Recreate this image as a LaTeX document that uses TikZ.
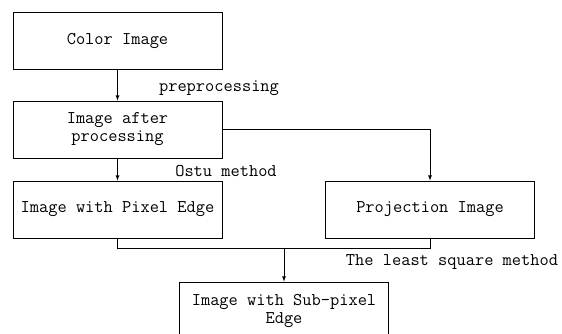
\documentclass[tikz,border=0pt]{standalone}
\usepackage{fontspec}
\usetikzlibrary{arrows}

\tikzset{
    stepbox/.style={draw, line width=0.8pt, rectangle, minimum width=209pt,
        minimum height=57pt, inner sep=0pt, align=center, font=\ttfamily\fontsize{17.9}{18}\selectfont},
    steplabel/.style={font=\ttfamily\fontsize{17.9}{18}\selectfont, inner sep=0pt},
    arr/.style={-latex, line width=0.8pt}
}

\begin{document}
\begin{tikzpicture}[x=1pt,y=-1pt]

        \useasboundingbox (0,0) rectangle (562,333);

        % boxes
        \node[stepbox] (color) at (117.5,40.5) {Color Image};
        \node[stepbox] (after) at (117.5,129.5) {Image after\\processing};
        \node[stepbox] (pixel) at (117.5,209.5) {Image with Pixel Edge};
        \node[stepbox] (proj) at (430,209.5) {Projection Image};
        \node[stepbox] (sub) at (284,310.5) {Image with Sub-pixel\\Edge};

        \coordinate (join) at (284,248);

        % labels
        \node[steplabel] (lpre) at (219,88) {preprocessing};
        \node[steplabel] (lostu) at (226,171) {Ostu method};
        \node[steplabel] (lleast) at (452,262) {The least square method};

        % connectors
        \draw[arr] (color) -- (after);
        \draw[arr] (after) -- (pixel);
        \draw[arr] (after.east) -| (proj);
        \draw[line width=0.8pt] (pixel.south) |- (join);
        \draw[line width=0.8pt] (proj.south) |- (join);
        \draw[arr] (join) -- (sub);
    \end{tikzpicture}
\end{document}
